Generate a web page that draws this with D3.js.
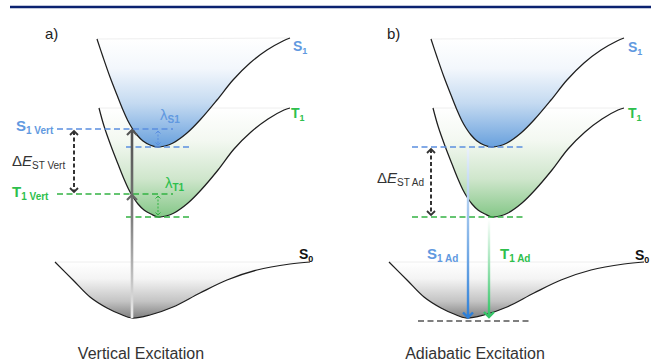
<!DOCTYPE html>
<html>
<head>
<meta charset="utf-8">
<script src="https://cdn.jsdelivr.net/npm/d3@7"></script>
<style>
  body { margin: 0; background: #fff; }
  text { font-family: "Liberation Sans", Arial, sans-serif; }
</style>
</head>
<body>
<div id="chart"></div>
<script>
// Potential energy curves, [reaction coordinate, energy] (arbitrary units)
var s1Curve = [[4.7,28.0],[5.3,26.2],[6.0,24.2],[6.7,22.4],[7.3,20.9],[7.8,19.8],[8.2,19.1],[8.7,18.4],
  [9.3,17.8],[10.0,17.4],[10.7,17.2],[11.5,17.3],[12.3,17.6],[13.7,18.6],[15.0,19.9],[16.7,21.9],
  [18.3,23.9],[20.0,25.6],[21.7,26.9],[23.3,27.8],[24.0,28.1]];
var t1Curve = [[4.9,21.1],[5.4,19.3],[6.1,17.3],[6.8,15.5],[7.4,14.0],[7.9,12.9],[8.3,12.2],[8.8,11.5],
  [9.4,10.9],[10.1,10.5],[10.8,10.2],[11.6,10.3],[12.4,10.6],[13.8,11.6],[15.1,12.9],[16.8,14.9],
  [18.4,17.0],[20.1,18.7],[21.8,20.0],[23.4,20.9],[24.0,21.1]];
var s0Curve = [[0.5,5.7],[2.3,3.9],[4.0,2.2],[5.7,1.1],[7.0,0.5],[8.2,0.1],[10.0,0.4],[12.3,1.2],
  [15.0,2.6],[17.7,3.9],[20.7,4.9],[24.0,5.5],[26.0,5.7]];

// Energy levels
var levelsA = [
  {name: "S1 Vert", e: 19.0, q0: 0.7, q1: 12.3, color: "#5b8fe0"},
  {name: "S1 min", e: 17.2, q0: 7.6, q1: 14.0, color: "#5b8fe0"},
  {name: "T1 Vert", e: 12.5, q0: 0.7, q1: 12.3, color: "#33b343"},
  {name: "T1 min", e: 10.2, q0: 7.6, q1: 14.0, color: "#33b343"}
];
var levelsB = [
  {name: "S1 Ad", e: 17.2, q0: 2.8, q1: 14.1, color: "#5b8fe0"},
  {name: "T1 Ad", e: 10.2, q0: 2.8, q1: 14.1, color: "#33b343"},
  {name: "S0", e: -0.2, q0: 3.4, q1: 14.7, color: "#555"}
];

var panelShift = 334;

var svg = d3.select("#chart").append("svg")
    .attr("width", 651)
    .attr("height", 362);

var x = d3.scaleLinear().domain([0, 26]).range([50, 310]);
var y = d3.scaleLinear().domain([0, 28]).range([319, 39]);

var line = d3.line()
    .x(function (d) { return x(d[0]); })
    .y(function (d) { return y(d[1]); })
    .curve(d3.curveCatmullRom);

// Top rule
svg.append("line")
    .attr("x1", 10).attr("x2", 651).attr("y1", 7).attr("y2", 7)
    .attr("stroke", "#0b2270").attr("stroke-width", 2.5);

var defs = svg.append("defs");

function vGrad(id, stops, attrs) {
    var g = defs.append("linearGradient").attr("id", id)
        .attr("x1", 0).attr("x2", 0).attr("y1", 0).attr("y2", 1);
    if (attrs) {
        Object.keys(attrs).forEach(function (k) { g.attr(k, attrs[k]); });
    }
    stops.forEach(function (s) {
        g.append("stop").attr("offset", s[0]).attr("stop-color", s[1]);
    });
}
vGrad("gS1", [[0, "#ffffff"], [0.28, "#f3f7fc"], [0.6, "#c4daf1"], [1, "#68a0dd"]]);
vGrad("gT1", [[0, "#ffffff"], [0.3, "#f3f8f1"], [0.65, "#cfe6cc"], [1, "#84c787"]]);
vGrad("gS0", [[0, "#ffffff"], [0.3, "#f4f4f4"], [0.7, "#c4c4c4"], [1, "#808080"]]);
vGrad("gGray", [[0, "#505050"], [0.45, "#7a7a7a"], [1, "#eeeeee"]],
    {gradientUnits: "userSpaceOnUse", y1: y(19.0), y2: y(0.1), x1: 0, x2: 0});
vGrad("gBlue", [[0, "#eaf1fb"], [1, "#2c7fd8"]],
    {gradientUnits: "userSpaceOnUse", y1: y(17.0), y2: y(0.1), x1: 0, x2: 0});
vGrad("gGreen", [[0, "#ffffff"], [1, "#33c466"]],
    {gradientUnits: "userSpaceOnUse", y1: y(10.0), y2: y(0.4), x1: 0, x2: 0});

function chevron(g, px, py, dir, color, size, width) {
    g.append("path")
        .attr("d", "M" + (px - size) + "," + (py + size * dir) + "L" + px + "," + py + "L" + (px + size) + "," + (py + size * dir))
        .attr("fill", "none").attr("stroke", color).attr("stroke-width", width)
        .attr("stroke-linejoin", "miter");
}

function sub(t, main, subTxt, size, subSize, italicMain) {
    t.append("tspan").text(main).style("font-size", size + "px")
        .style("font-style", italicMain ? "italic" : null);
    t.append("tspan").text(subTxt).style("font-size", subSize + "px").attr("dy", 3);
    return t;
}

function drawPanel(g) {
    // fills
    [["gT1", t1Curve], ["gS1", s1Curve], ["gS0", s0Curve]].forEach(function (c) {
        g.append("path").attr("d", line(c[1]) + "Z").attr("fill", "url(#" + c[0] + ")");
        var p0 = c[1][0], p1 = c[1][c[1].length - 1];
        g.append("line")
            .attr("x1", x(p0[0])).attr("x2", x(p1[0]))
            .attr("y1", y(p0[1])).attr("y2", y(p1[1]))
            .attr("stroke", "#eeeeee").attr("stroke-width", 1);
    });
    // curves
    [s1Curve, t1Curve, s0Curve].forEach(function (c) {
        g.append("path").attr("d", line(c))
            .attr("fill", "none").attr("stroke", "#1e1e1e").attr("stroke-width", 1.25);
    });
}

function drawLevels(g, levels) {
    g.selectAll("line.level").data(levels).enter().append("line")
        .attr("class", "level")
        .attr("x1", function (d) { return x(d.q0); })
        .attr("x2", function (d) { return x(d.q1); })
        .attr("y1", function (d) { return y(d.e); })
        .attr("y2", function (d) { return y(d.e); })
        .attr("stroke", function (d) { return d.color; })
        .attr("stroke-width", 1.6)
        .attr("stroke-dasharray", "6,3.5");
}

function dashedDouble(g, q, e0, e1, color) {
    var px = x(q), top = y(e0) + 2, bot = y(e1) - 2;
    g.append("line").attr("x1", px).attr("x2", px).attr("y1", top).attr("y2", bot)
        .attr("stroke", color).attr("stroke-width", 2).attr("stroke-dasharray", "4,2.5");
    chevron(g, px, top, 1, color, 4, 1.8);
    chevron(g, px, bot, -1, color, 4, 1.8);
}

function dottedDouble(g, q, e0, e1, color) {
    var px = x(q), top = y(e0) + 2, bot = y(e1) - 2;
    g.append("line").attr("x1", px).attr("x2", px).attr("y1", top).attr("y2", bot)
        .attr("stroke", color).attr("stroke-width", 1).attr("stroke-dasharray", "2,1.5");
    chevron(g, px, top, 1, color, 2.5, 1);
    chevron(g, px, bot, -1, color, 2.5, 1);
}

// ---------- Panel a ----------
var ga = svg.append("g");
drawPanel(ga);
drawLevels(ga, levelsA);

// vertical excitation arrow
ga.append("line")
    .attr("x1", x(8.2)).attr("x2", x(8.2))
    .attr("y1", y(0.1)).attr("y2", y(19.0) + 1)
    .attr("stroke", "url(#gGray)").attr("stroke-width", 2.6);
chevron(ga, x(8.2), y(19.0) + 1, 1, "#555", 5, 2.2);
chevron(ga, x(8.2), y(12.5) + 1, 1, "#666", 5, 2.2);

dashedDouble(ga, 2.4, 19.0, 12.5, "#333");
dottedDouble(ga, 10.8, 19.0, 17.2, "#5b8fe0");
dottedDouble(ga, 10.8, 12.5, 10.2, "#33b343");

// ---------- Panel b ----------
var gb = svg.append("g").attr("transform", "translate(" + panelShift + ",0)");
drawPanel(gb);
drawLevels(gb, levelsB);
dashedDouble(gb, 4.7, 17.2, 10.2, "#333");

gb.append("line").attr("x1", x(8.4)).attr("x2", x(8.4))
    .attr("y1", y(17.0)).attr("y2", y(0.15))
    .attr("stroke", "url(#gBlue)").attr("stroke-width", 2.4);
chevron(gb, x(8.4), y(0.15), -1, "#2c7fd8", 5, 2.4);
gb.append("line").attr("x1", x(10.5)).attr("x2", x(10.5))
    .attr("y1", y(10.0)).attr("y2", y(0.2))
    .attr("stroke", "url(#gGreen)").attr("stroke-width", 2.4);
chevron(gb, x(10.5), y(0.2), -1, "#33c466", 5, 2.4);

// ---------- Labels ----------
var blue = "#6199e0", green = "#2ebf4d", dark = "#222";

function label(px, py, main, subTxt, color, size, subSize, bold, italicMain) {
    var t = svg.append("text").attr("x", px).attr("y", py).attr("fill", color)
        .style("font-weight", bold ? "bold" : "normal");
    return sub(t, main, subTxt, size, subSize, italicMain);
}

svg.append("text").attr("x", 45).attr("y", 39).attr("fill", dark).style("font-size", "15px").text("a)");
svg.append("text").attr("x", 387).attr("y", 39).attr("fill", dark).style("font-size", "15px").text("b)");

// state labels on right
label(293, 51, "S", "1", blue, 14, 9, true);
label(291, 118, "T", "1", green, 14, 9, true);
label(299, 259, "S", "0", "#111", 14, 9, true);
label(628, 52, "S", "1", blue, 14, 9, true);
label(628, 118, "T", "1", green, 14, 9, true);
label(635, 260, "S", "0", "#111", 14, 9, true);

// panel a labels
label(16, 131, "S", "1 Vert", blue, 15, 10, true);
label(12, 197, "T", "1 Vert", green, 15, 10, true);
var de = svg.append("text").attr("x", 12).attr("y", 166).attr("fill", "#333");
de.append("tspan").text("Δ").style("font-size", "15px");
sub(de, "E", "ST Vert", 15, 10, true);
label(160, 120, "λ", "S1", blue, 15, 10, false).select("tspan:last-child").style("font-weight", "bold");
label(165, 188, "λ", "T1", green, 15, 10, false).select("tspan:last-child").style("font-weight", "bold");

// panel b labels
var de2 = svg.append("text").attr("x", 377).attr("y", 183).attr("fill", "#333");
de2.append("tspan").text("Δ").style("font-size", "15px");
sub(de2, "E", "ST Ad", 15, 10, true);
label(427, 259, "S", "1 Ad", blue, 15, 10, true);
label(500, 259, "T", "1 Ad", green, 15, 10, true);

svg.append("text").attr("x", 141).attr("y", 359).attr("text-anchor", "middle")
    .attr("fill", "#333").style("font-size", "16px").text("Vertical Excitation");
svg.append("text").attr("x", 475).attr("y", 359).attr("text-anchor", "middle")
    .attr("fill", "#333").style("font-size", "16px").text("Adiabatic Excitation");
</script>
</body>
</html>
